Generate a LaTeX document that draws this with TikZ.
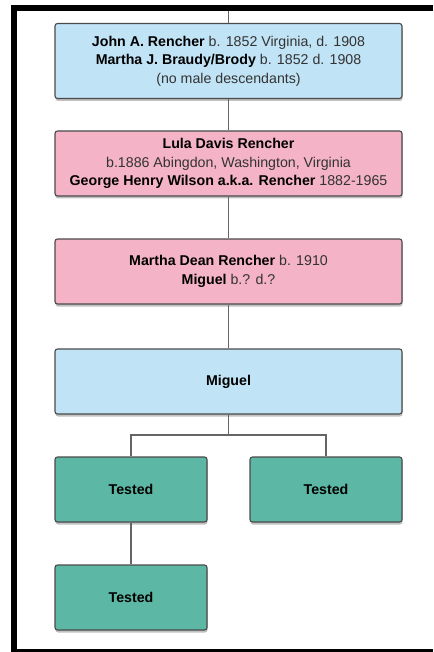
\documentclass[tikz,border=0pt]{standalone}
\usepackage{fontspec}
\setmainfont{Liberation Sans}
\usetikzlibrary{shadows}
\definecolor{boxblue}{HTML}{C1E3F6}
\definecolor{boxpink}{HTML}{F4B3C7}
\definecolor{boxteal}{HTML}{5CB8A5}
\definecolor{edgegray}{HTML}{4A4A4A}
\definecolor{txtgray}{HTML}{333333}
\begin{document}
\begin{tikzpicture}[x=1pt,y=-1pt,
  person/.style={draw=edgegray, line width=1.1pt, rounded corners=2.5pt,
    minimum width=347pt, align=center, inner sep=2pt,
    font=\fontsize{14.2}{18.5}\selectfont, text=txtgray,
    drop shadow={shadow xshift=0.5pt, shadow yshift=-2.5pt, opacity=0.35, fill=black!70}},
  small/.style={person, minimum width=152pt, minimum height=65pt},
  link/.style={draw=edgegray!85, line width=1.1pt}]
\useasboundingbox (0,0) rectangle (433,652);
% frame
\fill[black] (11,5) rectangle (433,11);
\fill[black] (11,5) rectangle (17,652);
\fill[black] (11,649) rectangle (433,652);
% people
\node[person, fill=boxblue, minimum height=75pt] (john) at (228.5,61)
  {\textcolor{black}{\bfseries John A. Rencher} b. 1852 Virginia, d. 1908\\
   \textcolor{black}{\bfseries Martha J. Braudy/Brody} b. 1852 d. 1908\\
   (no male descendants)};
\node[person, fill=boxpink, minimum height=65pt] (lula) at (228.5,163.5)
  {\textcolor{black}{\bfseries Lula Davis Rencher}\\
   b.1886 Abingdon, Washington, Virginia\\
   \textcolor{black}{\bfseries George Henry Wilson a.k.a. Rencher} 1882-1965};
\node[person, fill=boxpink, minimum height=65pt] (martha) at (228.5,271.5)
  {\textcolor{black}{\bfseries Martha Dean Rencher} b. 1910\\
   \textcolor{black}{\bfseries Miguel} b.? d.?};
\node[person, fill=boxblue, minimum height=65pt] (miguel) at (228.5,381.5)
  {\textcolor{black}{\bfseries Miguel}};
\node[small, fill=boxteal] (t1) at (131,489.5) {\textcolor{black}{\bfseries Tested}};
\node[small, fill=boxteal] (t2) at (326,489.5) {\textcolor{black}{\bfseries Tested}};
\node[small, fill=boxteal] (t3) at (131,597.5) {\textcolor{black}{\bfseries Tested}};
% connectors
\coordinate (top) at (228.5,11);
\coordinate (fork) at (228.5,435);
\draw[link] (top) -- (john.north);
\draw[link] (john.south) -- (lula.north);
\draw[link] (lula.south) -- (martha.north);
\draw[link] (martha.south) -- (miguel.north);
\draw[link] (miguel.south) -- (fork);
\draw[link] (fork) -| (t1.north);
\draw[link] (fork) -| (t2.north);
\draw[link] (t1.south) -- (t3.north);
\end{tikzpicture}
\end{document}
